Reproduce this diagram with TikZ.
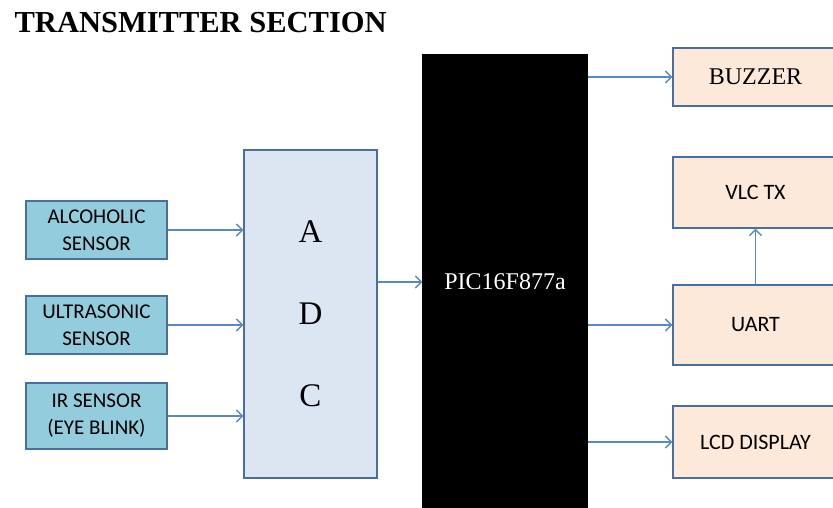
\documentclass[tikz,border=0pt]{standalone}
\usepackage{fontspec}
\setmainfont{Liberation Serif}
\newfontfamily\calfont{Carlito}
\usepackage{tikz}
\usetikzlibrary{arrows, arrows.meta}

\definecolor{sensorfill}{HTML}{93CDDD}
\definecolor{adcfill}{HTML}{DCE6F2}
\definecolor{outfill}{HTML}{FDE9D9}
\definecolor{edgeblue}{HTML}{4A6F9E}
\definecolor{wireblue}{HTML}{5B87C2}

\begin{document}
\begin{tikzpicture}[x=1pt, y=-1pt,
    every node/.style={rectangle, draw=edgeblue, line width=1.3pt, inner sep=0pt, align=center},
    sensor/.style={fill=sensorfill, minimum width=141pt, font=\calfont\fontsize{21}{27}\selectfont},
    outbox/.style={fill=outfill, minimum width=165pt, font=\calfont\fontsize{22}{27}\selectfont},
    wire/.style={-{Straight Barb[length=6pt, width=12pt, line width=1.4pt]}, draw=wireblue, line width=1.3pt}]
    \useasboundingbox (0,0) rectangle (833,507);
    \node[draw=none, anchor=base west, font=\bfseries\fontsize{30.5}{34}\selectfont] (title) at (14,32) {TRANSMITTER SECTION};
    % inputs
    \node[sensor, minimum height=58pt] (alc) at (96.5,230) {ALCOHOLIC\\SENSOR};
    \node[sensor, minimum height=58pt] (ultra) at (96.5,325) {ULTRASONIC\\SENSOR};
    \node[sensor, minimum height=66pt] (ir) at (96.5,416) {IR SENSOR\\(EYE BLINK)};
    \node[fill=adcfill, minimum width=133pt, minimum height=328pt, font=\fontsize{33}{82}\selectfont] (adc) at (310.5,314) {A\\D\\C};
    \node[fill=black, draw=black, minimum width=164pt, minimum height=457pt] (pic) at (505,283.5) {};
    \node[draw=none, text=white, font=\fontsize{24}{28}\selectfont] (piclabel) at (505,282) {PIC16F877a};
    % outputs
    \node[outbox, minimum height=58pt, font=\fontsize{24}{28}\selectfont] (buz) at (755.5,77) {BUZZER};
    \node[outbox, minimum height=71pt] (vlc) at (755.5,192.5) {VLC TX};
    \node[outbox, minimum height=80pt] (uart) at (755.5,325) {UART};
    \node[outbox, minimum height=72pt] (lcd) at (755.5,442) {LCD DISPLAY};
    \draw[wire] (alc.east) -- (alc.east -| adc.west);
    \draw[wire] (ultra.east) -- (ultra.east -| adc.west);
    \draw[wire] (ir.east) -- (ir.east -| adc.west);
    \draw[wire] (adc.east |- piclabel) -- (pic.west |- piclabel);
    \draw[wire] (pic.east |- buz) -- (buz.west);
    \draw[wire] (pic.east |- uart) -- (uart.west);
    \draw[wire] (pic.east |- lcd) -- (lcd.west);
    \draw[wire] (uart.north) -- (vlc.south);
\end{tikzpicture}
\end{document}
